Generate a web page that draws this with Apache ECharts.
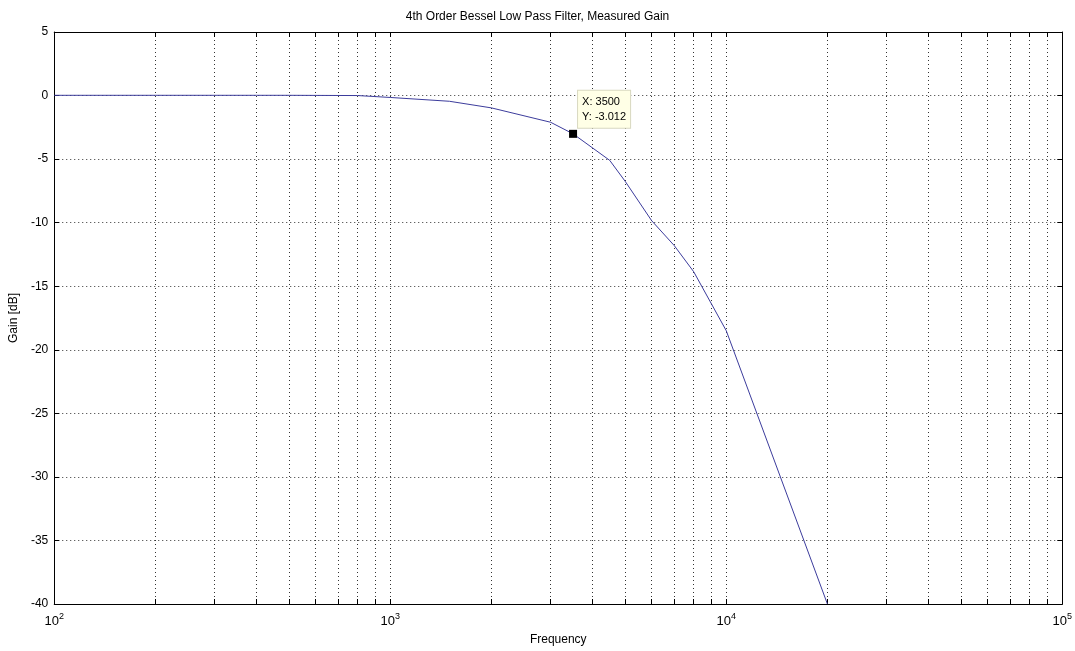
<!DOCTYPE html>
<html>
<head>
<meta charset="utf-8">
<style>
  html, body { margin: 0; padding: 0; background: #fff; }
  #chart { width: 1075px; height: 651px; }
</style>
<script src="https://cdn.jsdelivr.net/npm/echarts@6/dist/echarts.min.js"></script>
</head>
<body>
<div id="chart"></div>
<script>
// measured points (Hz, dB)
const freq = [100, 200, 300, 400, 500, 800, 1000, 1500, 2000, 3000, 3500, 4500, 5000, 6000, 7000, 8000, 10000, 20000]
const gain = [0.02, 0.02, 0.02, 0.02, 0.02, 0.0, -0.15, -0.45, -0.97, -2.1, -3.012, -5.1, -6.74, -9.85, -11.8, -13.86, -18.5, -40]

// data tip
const tipX = [3500]
const tipY = [-3.012]

// log grid / ticks
const xGrid = [100, 200, 300, 400, 500, 600, 700, 800, 900,
    1000, 2000, 3000, 4000, 5000, 6000, 7000, 8000, 9000,
    10000, 20000, 30000, 40000, 50000, 60000, 70000, 80000, 90000, 100000]
const xLabels = [100, 1000, 10000, 100000]

const font = 'Liberation Sans, Arial, sans-serif'
const chart = echarts.init(document.getElementById('chart'))

const lineData = freq.map((f, i) => [f, gain[i]])
const tipData = tipX.map((x, i) => [x, tipY[i]])

const axisLine = { show: true, onZero: false, lineStyle: { color: '#000', width: 1 } }

chart.setOption({
    animation: false,
    backgroundColor: '#fff',
    title: {
        text: '4th Order Bessel Low Pass Filter, Measured Gain',
        left: 'center',
        top: 6,
        textStyle: { fontFamily: font, fontSize: 12, fontWeight: 'normal', color: '#000' }
    },
    grid: { left: 54, right: 12, top: 32, bottom: 44 },
    xAxis: [
        {
            type: 'log',
            min: 100,
            max: 100000,
            name: 'Frequency',
            nameLocation: 'middle',
            nameGap: 30,
            nameTextStyle: { fontFamily: font, fontSize: 12, color: '#000' },
            axisLine: axisLine,
            axisTick: { show: true, inside: true, length: 5, customValues: xGrid, lineStyle: { color: '#000' } },
            axisLabel: {
                customValues: xLabels,
                margin: 8,
                showMinLabel: true,
                showMaxLabel: true,
                fontFamily: font,
                fontSize: 13,
                color: '#000',
                formatter: v => '10{sup|' + Math.round(Math.log10(v)) + '}',
                rich: {
                    sup: { fontFamily: font, fontSize: 9, color: '#000', padding: [0, 0, 9, 0] }
                }
            },
            splitLine: { show: true, lineStyle: { color: '#333', width: 1, type: [1, 3] } },
            minorTick: { show: false },
            minorSplitLine: { show: false }
        },
        {
            type: 'log',
            position: 'top',
            min: 100,
            max: 100000,
            axisLine: axisLine,
            axisTick: { show: true, inside: true, length: 5, customValues: xGrid, lineStyle: { color: '#000' } },
            axisLabel: { show: false },
            splitLine: { show: false }
        }
    ],
    yAxis: [
        {
            type: 'value',
            min: -40,
            max: 5,
            interval: 5,
            name: 'Gain [dB]',
            nameLocation: 'middle',
            nameGap: 32,
            nameRotate: 90,
            nameTextStyle: { fontFamily: font, fontSize: 12, color: '#000' },
            axisLine: axisLine,
            axisTick: { show: true, inside: true, length: 5, lineStyle: { color: '#000' } },
            axisLabel: { fontFamily: font, fontSize: 12, color: '#000', margin: 6 },
            splitLine: { show: true, lineStyle: { color: '#333', width: 1, type: [1, 3] } }
        },
        {
            type: 'value',
            position: 'right',
            min: -40,
            max: 5,
            interval: 5,
            axisLine: axisLine,
            axisTick: { show: true, inside: true, length: 5, lineStyle: { color: '#000' } },
            axisLabel: { show: false },
            splitLine: { show: false }
        }
    ],
    series: [
        {
            name: 'Gain',
            type: 'line',
            data: lineData,
            showSymbol: false,
            symbol: 'none',
            lineStyle: { color: '#3c3c9c', width: 1 },
            z: 3
        },
        {
            name: 'tip',
            type: 'scatter',
            data: tipData,
            symbol: 'rect',
            symbolSize: 8,
            itemStyle: { color: '#000', opacity: 1 },
            z: 5,
            label: {
                show: true,
                position: [9, -39],
                formatter: p => 'X: ' + p.value[0] + '\nY: ' + p.value[1].toFixed(3),
                fontFamily: font,
                fontSize: 11,
                lineHeight: 15,
                color: '#000',
                backgroundColor: '#ffffe6',
                borderColor: '#d8d8c0',
                borderWidth: 1,
                padding: [4, 4, 3, 4]
            }
        }
    ]
})
</script>
</body>
</html>
